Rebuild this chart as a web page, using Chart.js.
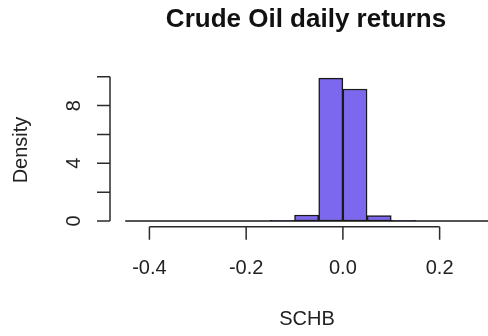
<!DOCTYPE html>
<html>
<head>
<meta charset="utf-8">
<script src="https://cdn.jsdelivr.net/npm/chart.js@4"></script>
<style>
  body { margin: 0; background: #fff; }
  #wrap { width: 488px; height: 336px; }
</style>
</head>
<body>
<div id="wrap"><canvas id="hist" width="488" height="336"></canvas></div>
<script>
// histogram breaks and densities
const breaks = [-0.45, -0.4, -0.35, -0.3, -0.25, -0.2, -0.15, -0.1, -0.05, 0, 0.05, 0.1, 0.15, 0.2, 0.25, 0.3];
const densities = [0, 0, 0, 0, 0, 0, 0.05, 0.42, 9.9, 9.15, 0.37, 0.04, 0, 0, 0];

const xTicks = [-0.4, -0.2, 0, 0.2];
const xTickLabels = ['-0.4', '-0.2', '0.0', '0.2'];
const yTicks = [0, 2, 4, 6, 8, 10];
const yTickLabels = ['0', '', '4', '', '8', ''];

const titleText = 'Crude Oil daily returns';
const xTitle = 'SCHB';
const yTitle = 'Density';

const ctx = document.getElementById('hist').getContext('2d');

let barData = [];
densities.map((d, i) => {
    barData.push({ x: (breaks[i] + breaks[i + 1]) / 2, y: d });
});

const fontFam = '"Liberation Sans", Arial, Helvetica, sans-serif';
const ink = '#2b2b2b';

// R style axes, labels and title
const rAxes = {
    id: 'rAxes',
    afterDraw(chart) {
        const c = chart.ctx;
        const xs = chart.scales.x;
        const ys = chart.scales.y;
        const left = chart.chartArea.left;
        const bottom = chart.chartArea.bottom;
        c.save();
        c.strokeStyle = ink;
        c.lineWidth = 1.5;
        c.fillStyle = '#222';

        // y axis
        c.beginPath();
        c.moveTo(left, ys.getPixelForValue(yTicks[0]));
        c.lineTo(left, ys.getPixelForValue(yTicks[yTicks.length - 1]));
        yTicks.map((t) => {
            const py = ys.getPixelForValue(t);
            c.moveTo(left, py);
            c.lineTo(left - 13, py);
        });
        c.stroke();

        c.font = '20px ' + fontFam;
        c.textAlign = 'center';
        c.textBaseline = 'middle';
        yTicks.map((t, i) => {
            if (!yTickLabels[i]) return;
            c.save();
            c.translate(73, ys.getPixelForValue(t));
            c.rotate(-Math.PI / 2);
            c.fillText(yTickLabels[i], 0, 1);
            c.restore();
        });

        // x axis
        c.beginPath();
        c.moveTo(xs.getPixelForValue(xTicks[0]), bottom);
        c.lineTo(xs.getPixelForValue(xTicks[xTicks.length - 1]), bottom);
        xTicks.map((t) => {
            const px = xs.getPixelForValue(t);
            c.moveTo(px, bottom);
            c.lineTo(px, bottom + 13);
        });
        c.stroke();

        xTicks.map((t, i) => {
            c.fillText(xTickLabels[i], xs.getPixelForValue(t), 268);
        });

        // axis titles
        c.fillText(xTitle, 307, 319);
        c.save();
        c.translate(21, 150);
        c.rotate(-Math.PI / 2);
        c.fillText(yTitle, 0, 0);
        c.restore();

        // main title
        c.font = 'bold 26px ' + fontFam;
        c.fillStyle = '#111';
        c.fillText(titleText, 306, 20);
        c.restore();
    }
};

let histChart = new Chart(ctx, {
    type: 'bar',
    data: {
        datasets: [{
            label: 'density',
            data: barData,
            backgroundColor: '#7B68EE',
            borderColor: '#1a1a1a',
            borderWidth: 1.5,
            borderSkipped: false,
            barPercentage: 1,
            categoryPercentage: 1,
            order: 1
        },
        {
            type: 'line',
            label: 'base',
            data: [{ x: breaks[0], y: 0 }, { x: breaks[breaks.length - 1], y: 0 }],
            borderColor: '#1a1a1a',
            borderWidth: 1.5,
            pointRadius: 0,
            order: 0
        }]
    },
    options: {
        responsive: false,
        animation: false,
        devicePixelRatio: 1,
        layout: {
            padding: { left: 110, right: 0, top: 72.4, bottom: 109.2 }
        },
        scales: {
            x: {
                type: 'linear',
                min: -0.4815,
                max: 0.30,
                display: false,
                offset: false
            },
            y: {
                min: -0.4,
                max: 10.3,
                display: false
            }
        },
        plugins: {
            legend: { display: false },
            title: { display: false },
            tooltip: { enabled: false }
        }
    },
    plugins: [rAxes]
});
</script>
</body>
</html>
